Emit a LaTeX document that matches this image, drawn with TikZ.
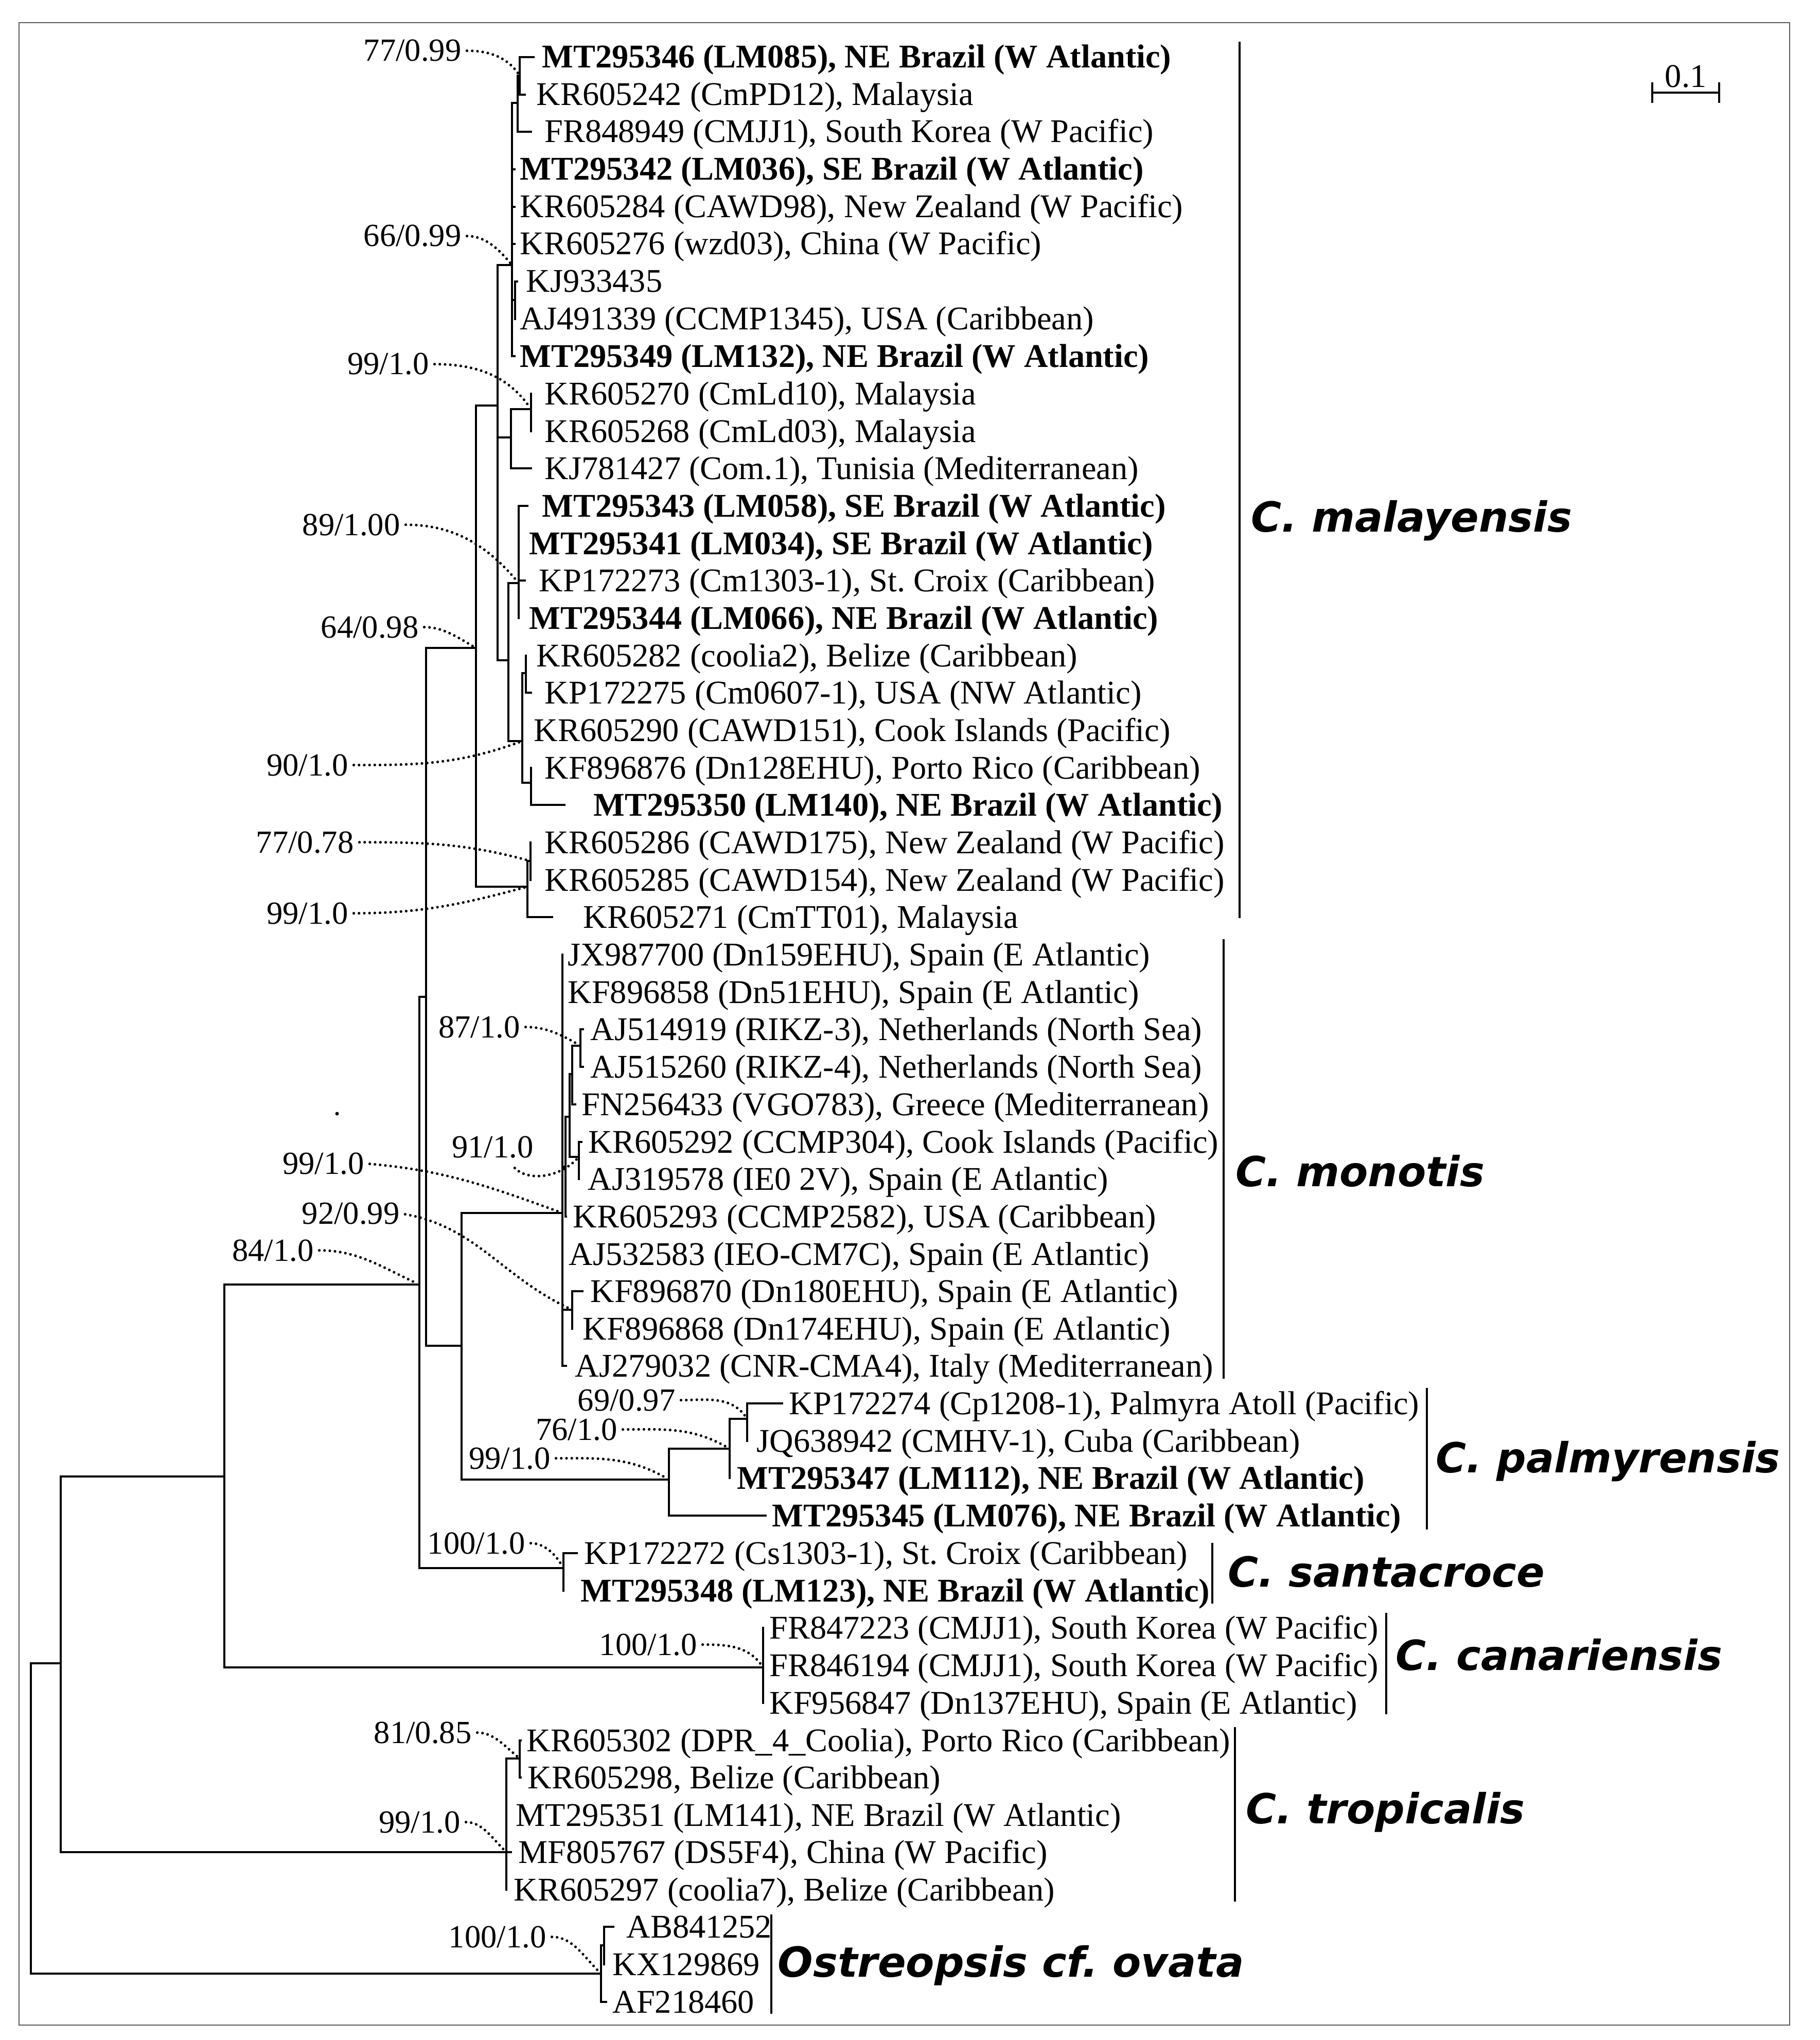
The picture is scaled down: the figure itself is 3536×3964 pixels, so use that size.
\documentclass[tikz,border=0pt]{standalone}
\usepackage{fontspec}
\setmainfont{Liberation Serif}
\newfontfamily\cladefont{DejaVu Sans}
\usepackage{tikz}
\frenchspacing

\begin{document}
\begin{tikzpicture}[x=0.01cm,y=-0.01cm,
  branch/.style={line width=1.3pt,line cap=rect},
  taxon/.style={anchor=base west,inner sep=0pt,font=\fontsize{18.3}{22}\selectfont},
  taxonb/.style={taxon,font=\fontsize{18.3}{22}\selectfont\bfseries},
  boot/.style={anchor=base east,inner sep=0pt,font=\fontsize{17.8}{21}\selectfont},
  supline/.style={line width=1.5pt,line cap=round,dash pattern=on 0pt off 2.9pt,shorten <=3pt,shorten >=1.5pt},
  cladelab/.style={anchor=base west,inner sep=0pt,font=\cladefont\bfseries\itshape\fontsize{22.9}{27}\selectfont},
  cladebar/.style={line width=1.2pt}]
\useasboundingbox (0,0) rectangle (3536,3964);
\draw[black!65,line width=0.8pt] (37,44) rectangle (3478,3935);

\coordinate (root) at (60,3533);
\coordinate (n1) at (118,3232);
\coordinate (n2) at (436,2869);
\coordinate (n3) at (815,2496);
\coordinate (n4) at (828,1937);
\coordinate (n5) at (897,2615);
\coordinate (m1) at (925,1259);
\coordinate (m2) at (967,788);
\coordinate (m4) at (995,515);
\coordinate (m77) at (1006,200);
\coordinate (ms) at (1010,147);
\coordinate (mkj) at (1001,583);
\coordinate (mtun) at (993,850);
\coordinate (mpair) at (1032,795);
\coordinate (m988) at (988,1283);
\coordinate (m89) at (1008,1133);
\coordinate (m90) at (1015,1440);
\coordinate (m90a) at (1022,1308);
\coordinate (m140) at (1032,1521);
\coordinate (mcawd) at (1025,1723);
\coordinate (mnz) at (1031,1673);
\coordinate (mon) at (1093,2357);
\coordinate (mon2) at (1099,2267);
\coordinate (mon1) at (1107,2170);
\coordinate (mon1b) at (1112,2087);
\coordinate (mon1a) at (1128,2032);
\coordinate (mon1c) at (1125,2248);
\coordinate (mon4) at (1112,2545);
\coordinate (p1) at (1300,2875);
\coordinate (p2) at (1418,2815);
\coordinate (p3) at (1452,2757);
\coordinate (san) at (1095,3047);
\coordinate (can) at (1483,3240);
\coordinate (trop) at (984,3599);
\coordinate (trop1) at (1010,3417);
\coordinate (ost) at (1168,3835);
\coordinate (ostab) at (1174,3780);

\coordinate (t1) at (1037,111);
\coordinate (t2) at (1020,184);
\coordinate (t3) at (1032,256);
\coordinate (t4) at (1000,329);
\coordinate (t5) at (1000,402);
\coordinate (t6) at (1000,474);
\coordinate (t7) at (1005,547);
\coordinate (t8) at (1001,620);
\coordinate (t9) at (1000,692);
\coordinate (t10) at (1032,765);
\coordinate (t11) at (1032,838);
\coordinate (t12) at (1032,910);
\coordinate (t13) at (1025,983);
\coordinate (t14) at (1008,1056);
\coordinate (t15) at (1020,1128);
\coordinate (t16) at (1008,1201);
\coordinate (t17) at (1022,1274);
\coordinate (t18) at (1032,1346);
\coordinate (t19) at (1015,1419);
\coordinate (t20) at (1032,1492);
\coordinate (t21) at (1097,1564);
\coordinate (t22) at (1031,1637);
\coordinate (t23) at (1031,1710);
\coordinate (t24) at (1073,1782);
\coordinate (t25) at (1093,1855);
\coordinate (t26) at (1093,1928);
\coordinate (t27) at (1133,2000);
\coordinate (t28) at (1133,2073);
\coordinate (t29) at (1118,2146);
\coordinate (t30) at (1130,2219);
\coordinate (t31) at (1125,2291);
\coordinate (t32) at (1100,2364);
\coordinate (t33) at (1093,2437);
\coordinate (t34) at (1132,2509);
\coordinate (t35) at (1112,2582);
\coordinate (t36) at (1100,2654);
\coordinate (t37) at (1520,2727);
\coordinate (t38) at (1452,2800);
\coordinate (t39) at (1418,2872);
\coordinate (t40) at (1488,2945);
\coordinate (t41) at (1121,3018);
\coordinate (t42) at (1095,3091);
\coordinate (t43) at (1483,3163);
\coordinate (t44) at (1483,3236);
\coordinate (t45) at (1483,3309);
\coordinate (t46) at (1012,3382);
\coordinate (t47) at (1012,3454);
\coordinate (t48) at (984,3527);
\coordinate (t49) at (993,3599);
\coordinate (t50) at (984,3672);
\coordinate (t51) at (1192,3744);
\coordinate (t52) at (1174,3817);
\coordinate (t53) at (1178,3890);

\draw[branch] (root) |- (n1) (root) |- (ost);
\draw[branch] (n1) |- (n2) (n1) |- (trop);
\draw[branch] (n2) |- (n3) (n2) |- (can);
\draw[branch] (n3) |- (n4) (n3) |- (san);
\draw[branch] (n4) |- (m1) (n4) |- (n5);
\draw[branch] (n5) |- (mon) (n5) |- (p1);
\draw[branch] (m1) |- (m2) (m1) |- (mcawd);
\draw[branch] (m2) |- (m4) (m2) |- (mtun) (m2) |- (m988);
\draw[branch] (m4) |- (m77) (m4) |- (t4) (m4) |- (t5) (m4) |- (t6) (m4) |- (mkj) (m4) |- (t9);
\draw[branch] (m77) |- (ms) (m77) |- (t3) (ms) |- (t1) (ms) |- (t2);
\draw[branch] (mkj) |- (t7) (mkj) |- (t8);
\draw[branch] (mtun) |- (mpair) (mtun) |- (t12) (mpair) |- (t10) (mpair) |- (t11);
\draw[branch] (m988) |- (m89) (m988) |- (m90);
\draw[branch] (m89) |- (t13) (m89) |- (t14) (m89) |- (t15) (m89) |- (t16);
\draw[branch] (m90) |- (m90a) (m90) |- (t19) (m90) |- (m140);
\draw[branch] (m90a) |- (t17) (m90a) |- (t18) (m140) |- (t20) (m140) |- (t21);
\draw[branch] (mcawd) |- (mnz) (mcawd) |- (t24) (mnz) |- (t22) (mnz) |- (t23);
\draw[branch] (mon) |- (t25) (mon) |- (t26) (mon) |- (mon2) (mon) |- (t33) (mon) |- (mon4) (mon) |- (t36);
\draw[branch] (mon2) |- (mon1) (mon2) |- (t32);
\draw[branch] (mon1) |- (mon1b) (mon1) |- (mon1c);
\draw[branch] (mon1b) |- (mon1a) (mon1b) |- (t29) (mon1a) |- (t27) (mon1a) |- (t28);
\draw[branch] (mon1c) |- (t30) (mon1c) |- (t31) (mon4) |- (t34) (mon4) |- (t35);
\draw[branch] (p1) |- (p2) (p1) |- (t40) (p2) |- (p3) (p2) |- (t39) (p3) |- (t37) (p3) |- (t38);
\draw[branch] (san) |- (t41) (san) |- (t42);
\draw[branch] (can) |- (t43) (can) |- (t44) (can) |- (t45);
\draw[branch] (trop) |- (trop1) (trop) |- (t48) (trop) |- (t49) (trop) |- (t50) (trop1) |- (t46) (trop1) |- (t47);
\draw[branch] (ost) |- (ostab) (ost) |- (t53) (ostab) |- (t51) (ostab) |- (t52);

\node[taxonb] (MT295346) at (1053,132) {MT295346 (LM085), NE Brazil (W Atlantic)};
\node[taxon] (KR605242) at (1042,205) {KR605242 (CmPD12), Malaysia};
\node[taxon] (FR848949) at (1058,277) {FR848949 (CMJJ1), South Korea (W Pacific)};
\node[taxonb] (MT295342) at (1010,350) {MT295342 (LM036), SE Brazil (W Atlantic)};
\node[taxon] (KR605284) at (1010,423) {KR605284 (CAWD98), New Zealand (W Pacific)};
\node[taxon] (KR605276) at (1010,495) {KR605276 (wzd03), China (W Pacific)};
\node[taxon] (KJ933435) at (1022,568) {KJ933435};
\node[taxon] (AJ491339) at (1010,641) {AJ491339 (CCMP1345), USA (Caribbean)};
\node[taxonb] (MT295349) at (1010,713) {MT295349 (LM132), NE Brazil (W Atlantic)};
\node[taxon] (KR605270) at (1058,786) {KR605270 (CmLd10), Malaysia};
\node[taxon] (KR605268) at (1058,859) {KR605268 (CmLd03), Malaysia};
\node[taxon] (KJ781427) at (1058,931) {KJ781427 (Com.1), Tunisia (Mediterranean)};
\node[taxonb] (MT295343) at (1053,1004) {MT295343 (LM058), SE Brazil (W Atlantic)};
\node[taxonb] (MT295341) at (1028,1077) {MT295341 (LM034), SE Brazil (W Atlantic)};
\node[taxon] (KP172273) at (1047,1149) {KP172273 (Cm1303-1), St. Croix (Caribbean)};
\node[taxonb] (MT295344) at (1028,1222) {MT295344 (LM066), NE Brazil (W Atlantic)};
\node[taxon] (KR605282) at (1042,1295) {KR605282 (coolia2), Belize (Caribbean)};
\node[taxon] (KP172275) at (1058,1367) {KP172275 (Cm0607-1), USA (NW Atlantic)};
\node[taxon] (KR605290) at (1037,1440) {KR605290 (CAWD151), Cook Islands (Pacific)};
\node[taxon] (KF896876) at (1058,1513) {KF896876 (Dn128EHU), Porto Rico (Caribbean)};
\node[taxonb] (MT295350) at (1153,1585) {MT295350 (LM140), NE Brazil (W Atlantic)};
\node[taxon] (KR605286) at (1058,1658) {KR605286 (CAWD175), New Zealand (W Pacific)};
\node[taxon] (KR605285) at (1058,1731) {KR605285 (CAWD154), New Zealand (W Pacific)};
\node[taxon] (KR605271) at (1133,1803) {KR605271 (CmTT01), Malaysia};
\node[taxon] (JX987700) at (1103,1876) {JX987700 (Dn159EHU), Spain (E Atlantic)};
\node[taxon] (KF896858) at (1103,1949) {KF896858 (Dn51EHU), Spain (E Atlantic)};
\node[taxon] (AJ514919) at (1147,2021) {AJ514919 (RIKZ-3), Netherlands (North Sea)};
\node[taxon] (AJ515260) at (1147,2094) {AJ515260 (RIKZ-4), Netherlands (North Sea)};
\node[taxon] (FN256433) at (1130,2167) {FN256433 (VGO783), Greece (Mediterranean)};
\node[taxon] (KR605292) at (1143,2240) {KR605292 (CCMP304), Cook Islands (Pacific)};
\node[taxon] (AJ319578) at (1142,2312) {AJ319578 (IE0 2V), Spain (E Atlantic)};
\node[taxon] (KR605293) at (1113,2385) {KR605293 (CCMP2582), USA (Caribbean)};
\node[taxon] (AJ532583) at (1105,2458) {AJ532583 (IEO-CM7C), Spain (E Atlantic)};
\node[taxon] (KF896870) at (1147,2530) {KF896870 (Dn180EHU), Spain (E Atlantic)};
\node[taxon] (KF896868) at (1132,2603) {KF896868 (Dn174EHU), Spain (E Atlantic)};
\node[taxon] (AJ279032) at (1117,2675) {AJ279032 (CNR-CMA4), Italy (Mediterranean)};
\node[taxon] (KP172274) at (1533,2748) {KP172274 (Cp1208-1), Palmyra Atoll (Pacific)};
\node[taxon] (JQ638942) at (1470,2821) {JQ638942 (CMHV-1), Cuba (Caribbean)};
\node[taxonb] (MT295347) at (1432,2893) {MT295347 (LM112), NE Brazil (W Atlantic)};
\node[taxonb] (MT295345) at (1500,2966) {MT295345 (LM076), NE Brazil (W Atlantic)};
\node[taxon] (KP172272) at (1135,3039) {KP172272 (Cs1303-1), St. Croix (Caribbean)};
\node[taxonb] (MT295348) at (1128,3112) {MT295348 (LM123), NE Brazil (W Atlantic)};
\node[taxon] (FR847223) at (1495,3184) {FR847223 (CMJJ1), South Korea (W Pacific)};
\node[taxon] (FR846194) at (1495,3257) {FR846194 (CMJJ1), South Korea (W Pacific)};
\node[taxon] (KF956847) at (1495,3330) {KF956847 (Dn137EHU), Spain (E Atlantic)};
\node[taxon] (KR605302) at (1023,3403) {KR605302 (DPR\_4\_Coolia), Porto Rico (Caribbean)};
\node[taxon] (KR605298) at (1025,3475) {KR605298, Belize (Caribbean)};
\node[taxon] (MT295351) at (1002,3548) {MT295351 (LM141), NE Brazil (W Atlantic)};
\node[taxon] (MF805767) at (1007,3620) {MF805767 (DS5F4), China (W Pacific)};
\node[taxon] (KR605297) at (998,3693) {KR605297 (coolia7), Belize (Caribbean)};
\node[taxon] (AB841252) at (1217,3765) {AB841252};
\node[taxon] (KX129869) at (1190,3838) {KX129869};
\node[taxon] (AF218460) at (1190,3911) {AF218460};

\node[boot] (b1) at (897,119) {77/0.99};
\node[boot] (b2) at (897,479) {66/0.99};
\node[boot] (b3) at (834,728) {99/1.0};
\node[boot] (b4) at (778,1040) {89/1.00};
\node[boot] (b5) at (814,1239) {64/0.98};
\node[boot] (b6) at (677,1507) {90/1.0};
\node[boot] (b7) at (688,1657) {77/0.78};
\node[boot] (b8) at (677,1795) {99/1.0};
\node[boot] (b9) at (1011,2016) {87/1.0};
\node[boot] (b10) at (1037,2249) {91/1.0};
\node[boot] (b11) at (708,2281) {99/1.0};
\node[boot] (b12) at (777,2378) {92/0.99};
\node[boot] (b13) at (610,2450) {84/1.0};
\node[boot] (b14) at (1313,2741) {69/0.97};
\node[boot] (b15) at (1200,2798) {76/1.0};
\node[boot] (b16) at (1070,2854) {99/1.0};
\node[boot] (b17) at (1021,3019) {100/1.0};
\node[boot] (b18) at (1355,3216) {100/1.0};
\node[boot] (b19) at (917,3387) {81/0.85};
\node[boot] (b20) at (895,3561) {99/1.0};
\node[boot] (b21) at (1062,3784) {100/1.0};
\coordinate (b10s) at (993,2262);

\draw[supline] (b1.east) to[out=0,in=125] (ms);
\draw[supline] (b2.east) to[out=0,in=130] (m4);
\draw[supline] (b3.east) to[out=0,in=125] (mpair);
\draw[supline] (b4.east) to[out=0,in=130] (m89);
\draw[supline] (b5.east) to[out=0,in=150] (m1);
\draw[supline] (b6.east) to[out=0,in=-160] (m90);
\draw[supline] (b7.east) to[out=0,in=165] (mnz);
\draw[supline] (b8.east) to[out=0,in=-165] (mcawd);
\draw[supline] (b9.east) to[out=0,in=150] (mon1a);
\draw[supline] (b10s) .. controls (1025,2295) and (1085,2290) .. (mon1c);
\draw[supline] (b11.east) to[out=-5,in=160] (mon);
\draw[supline] (b12.east) to[out=-10,in=155] (mon4);
\draw[supline] (b13.east) to[out=0,in=155] (n3);
\draw[supline] (b14.east) to[out=0,in=125] (p3);
\draw[supline] (b15.east) to[out=0,in=150] (p2);
\draw[supline] (b16.east) to[out=0,in=150] (p1);
\draw[supline] (b17.east) to[out=0,in=120] (san);
\draw[supline] (b18.east) to[out=0,in=125] (can);
\draw[supline] (b19.east) to[out=0,in=140] (trop1);
\draw[supline] (b20.east) to[out=0,in=135] (trop);
\draw[supline] (b21.east) to[out=0,in=135] (ost);

\draw[cladebar] (2409,81) -- (2409,1784);
\node[cladelab] (malay) at (2431,1033) {C. malayensis};
\draw[cladebar] (2378,1825) -- (2378,2679);
\node[cladelab] (mono) at (2401,2305) {C. monotis};
\draw[cladebar] (2773,2697) -- (2773,2972);
\node[cladelab] (palmy) at (2790,2861) {C. palmyrensis};
\draw[cladebar] (2356,2998) -- (2356,3116);
\node[cladelab] (santa) at (2386,3083) {C. santacroce};
\draw[cladebar] (2694,3134) -- (2694,3331);
\node[cladelab] (canar) at (2712,3245) {C. canariensis};
\draw[cladebar] (2400,3356) -- (2400,3695);
\node[cladelab] (tropi) at (2421,3543) {C. tropicalis};
\draw[cladebar] (1499,3720) -- (1499,3913);
\node[cladelab] (ostreo) at (1511,3841) {Ostreopsis cf. ovata};

\draw[branch,line cap=butt] (3211,160) -- (3211,200) (3211,180) -- (3341,180) (3341,160) -- (3341,200);
\node[anchor=base,inner sep=0pt,font=\fontsize{18.3}{22}\selectfont] (scalelab) at (3276,170) {0.1};
\fill (655,2164) circle (1pt);
\end{tikzpicture}
\end{document}
